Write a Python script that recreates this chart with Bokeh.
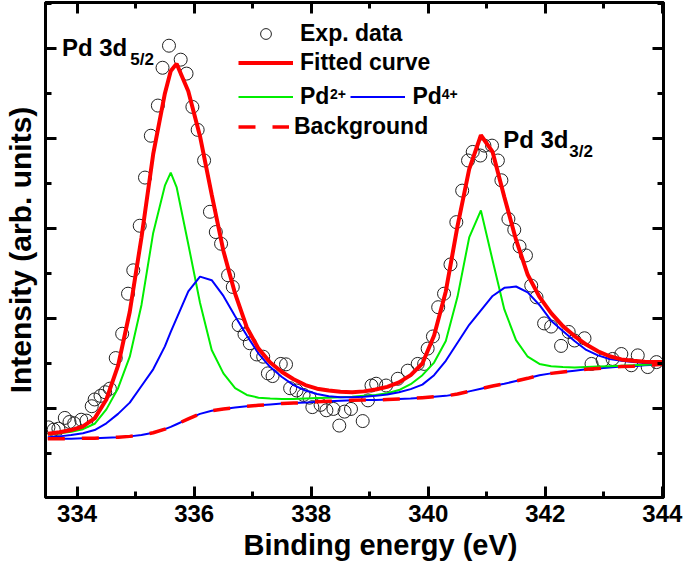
from bokeh.plotting import figure
from bokeh.models import (Range1d, LinearAxis, SingleIntervalTicker, Legend,
                          LegendItem, Label, Title, ColumnDataSource)
from bokeh.embed import file_html
from bokeh.resources import INLINE

# ---------------- data ----------------
energy = [333.5, 333.7, 333.9, 334.1, 334.3, 334.5, 334.7, 334.9, 335.1, 335.3,
          335.5, 335.6, 335.7, 335.9, 336.1, 336.3, 336.5, 336.7, 336.9, 337.1,
          337.3, 337.5, 337.7, 337.9, 338.1, 338.3, 338.5, 338.7, 338.9, 339.1,
          339.3, 339.5, 339.7, 339.9, 340.1, 340.3, 340.5, 340.7, 340.9, 341.1,
          341.3, 341.5, 341.7, 341.9, 342.1, 342.3, 342.5, 342.7, 342.9, 343.1,
          343.3, 343.5, 343.7, 343.9, 344.0]

background = [1.33, 1.33, 1.33, 1.34, 1.34, 1.35, 1.36, 1.38, 1.41, 1.46,
              1.54, 1.59, 1.65, 1.77, 1.88, 1.95, 1.99, 2.02, 2.05, 2.07,
              2.09, 2.11, 2.12, 2.13, 2.15, 2.16, 2.17, 2.18, 2.19, 2.19,
              2.20, 2.21, 2.22, 2.24, 2.26, 2.28, 2.32, 2.38, 2.44, 2.50,
              2.55, 2.61, 2.67, 2.74, 2.78, 2.81, 2.84, 2.87, 2.89, 2.91,
              2.93, 2.94, 2.96, 2.97, 2.98]

pd2 = [1.42, 1.45, 1.48, 1.54, 1.66, 1.98, 2.45, 3.15, 4.30, 5.90,
       6.95, 7.24, 6.92, 5.65, 4.35, 3.30, 2.78, 2.45, 2.30, 2.24,
       2.22, 2.21, 2.21, 2.22, 2.23, 2.24, 2.25, 2.26, 2.28, 2.30,
       2.34, 2.41, 2.54, 2.74, 3.02, 3.50, 4.48, 5.80, 6.40, 5.29,
       4.20, 3.52, 3.15, 2.99, 2.94, 2.92, 2.91, 2.92, 2.93, 2.94,
       2.95, 2.96, 2.97, 2.98, 2.98]

pd4 = [1.36, 1.38, 1.41, 1.45, 1.52, 1.67, 1.88, 2.13, 2.50, 2.87,
       3.38, 3.70, 4.00, 4.60, 4.93, 4.85, 4.50, 4.05, 3.62, 3.22,
       2.92, 2.70, 2.52, 2.40, 2.32, 2.27, 2.25, 2.25, 2.26, 2.28,
       2.31, 2.36, 2.43, 2.53, 2.74, 3.06, 3.46, 3.86, 4.18, 4.50,
       4.68, 4.71, 4.58, 4.30, 3.95, 3.72, 3.50, 3.30, 3.18, 3.10,
       3.06, 3.03, 3.01, 3.00, 3.00]

fitted = [1.44, 1.47, 1.52, 1.60, 1.78, 2.20, 2.95, 4.15, 5.80, 7.65,
          9.00, 9.50, 9.66, 9.05, 8.05, 6.75, 5.50, 4.55, 3.80, 3.33,
          3.02, 2.81, 2.65, 2.52, 2.44, 2.40, 2.37, 2.36, 2.38, 2.42,
          2.48, 2.58, 2.74, 3.00, 3.62, 4.60, 6.05, 7.32, 8.07, 7.70,
          6.70, 5.75, 4.97, 4.48, 4.12, 3.83, 3.61, 3.42, 3.27, 3.16,
          3.09, 3.06, 3.04, 3.03, 3.03]

exp_energy = [333.51, 333.60, 333.68, 333.79, 333.87, 333.95, 334.07, 334.16, 334.25, 334.30,
              334.40, 334.48, 334.56, 334.66, 334.77, 334.87, 334.96, 335.07, 335.16, 335.26,
              335.38, 335.46, 335.57, 335.77, 335.87, 335.97, 336.06, 336.17, 336.27, 336.37,
              336.46, 336.58, 336.66, 336.76, 336.86, 336.95, 337.07, 337.18, 337.26, 337.34,
              337.48, 337.57, 337.64, 337.75, 337.87, 337.97, 338.02, 338.16, 338.26, 338.38,
              338.48, 338.57, 338.68, 338.88, 338.97, 339.03, 339.11, 339.28, 339.48, 339.65,
              339.82, 339.93, 339.99, 340.08, 340.17, 340.27, 340.38, 340.48, 340.58, 340.68,
              340.76, 340.89, 340.96, 341.09, 341.19, 341.25, 341.37, 341.47, 341.56, 341.67,
              341.76, 341.85, 341.98, 342.10, 342.27, 342.40, 342.50, 342.67, 342.79, 342.98,
              343.15, 343.30, 343.47, 343.58, 343.75, 343.90]

exp_intensity = [1.58, 1.53, 1.55, 1.79, 1.70, 1.67, 1.75, 1.73, 2.05, 2.20,
                 2.28, 2.36, 2.44, 3.12, 3.66, 4.55, 5.07, 6.06, 7.13, 8.06,
                 8.73, 9.57, 10.06, 9.75, 9.44, 8.70, 8.19, 7.51, 6.37, 5.92,
                 5.66, 4.96, 4.70, 3.85, 3.65, 3.45, 3.20, 3.15, 2.78, 2.72,
                 2.99, 2.98, 2.45, 2.40, 2.30, 2.24, 2.03, 2.08, 1.96, 1.99,
                 1.62, 1.93, 1.99, 1.72, 2.18, 2.51, 2.55, 2.51, 2.66, 2.84,
                 2.99, 2.99, 3.33, 3.60, 4.25, 4.55, 5.20, 6.14, 6.84, 7.51,
                 7.70, 7.62, 7.84, 7.84, 7.51, 7.07, 6.21, 5.97, 5.60, 5.40,
                 4.73, 4.47, 3.89, 3.82, 3.39, 3.70, 3.51, 3.56, 2.99, 3.07,
                 3.10, 3.21, 2.96, 3.18, 2.92, 3.03]

x_ticks_interval = 2
y_ticks_interval = 2

# ---------------- figure ----------------
FONT = "Liberation Sans"

p = figure(width=684, height=569, output_backend="svg", toolbar_location=None,
           x_range=Range1d(333.46, 344.02), y_range=Range1d(0.022, 11.02),
           min_border_left=44, min_border_right=21, min_border_top=2,
           min_border_bottom=72)
p.grid.visible = False
p.outline_line_color = "black"
p.outline_line_width = 3
p.background_fill_color = "white"
p.border_fill_color = "white"

xt = SingleIntervalTicker(interval=x_ticks_interval, num_minor_ticks=2)
yt = SingleIntervalTicker(interval=y_ticks_interval, num_minor_ticks=2)
p.xaxis.ticker = xt
p.yaxis.ticker = yt
p.add_layout(LinearAxis(ticker=xt), "above")
p.add_layout(LinearAxis(ticker=yt), "right")

for ax in p.axis:
    ax.major_tick_in = 11
    ax.major_tick_out = 0
    ax.minor_tick_in = 6
    ax.minor_tick_out = 0
    ax.major_tick_line_width = 3
    ax.minor_tick_line_width = 3
    ax.major_tick_line_color = "black"
    ax.minor_tick_line_color = "black"
    ax.axis_line_width = 3
    ax.axis_line_color = "black"
    ax.major_label_text_font = FONT
    ax.major_label_text_font_style = "bold"
    ax.axis_label_text_font = FONT
    ax.axis_label_text_font_style = "bold"
    ax.axis_label_text_color = "black"
    ax.major_label_text_color = "black"

# bottom axis: tick labels only (title added below as a panel title)
bx = p.below[0]
bx.major_label_text_font_size = "24px"
bx.major_label_standoff = 7

# left axis: title, no tick labels (not drawn)
ly = p.left[0]
ly.axis_label = "Intensity (arb. units)"
ly.axis_label_text_font_size = "30px"
ly.axis_label_standoff = 9

for ax in (ly, p.above[0], p.right[0]):
    ax.major_label_text_font_size = "1px"
    ax.major_label_text_color = None
    ax.major_label_standoff = 0

# x-axis title, off-centre to the right as in the original
xtitle = Title(text="Binding energy (eV)", align="left", offset=198,
               standoff=4, text_font=FONT, text_font_style="bold",
               text_font_size="29px", text_color="black")
p.add_layout(xtitle, "below")

src = ColumnDataSource(dict(energy=energy, background=background, pd2=pd2,
                            pd4=pd4, fitted=fitted))
exp_src = ColumnDataSource(dict(e=exp_energy, i=exp_intensity))

r_exp = p.scatter(x="e", y="i", source=exp_src, marker="circle", size=13,
                  fill_color=None, line_color="#222222", line_width=1)
p.line(x="energy", y="background", source=src, line_color="#0000FF", line_width=2)
r_pd2 = p.line(x="energy", y="pd2", source=src, line_color="#00EE00", line_width=2)
r_pd4 = p.line(x="energy", y="pd4", source=src, line_color="#0000FF", line_width=2)
r_fit = p.line(x="energy", y="fitted", source=src, line_color="#FF0000", line_width=4)
r_bg = p.line(x="energy", y="background", source=src, line_color="#FF0000",
              line_width=3.5, line_dash="17 17")


def make_legend(items, loc, orientation="vertical", spacing=2, gw=55, standoff=7):
    lg = Legend(items=items, location=loc, orientation=orientation)
    lg.label_text_font = FONT
    lg.label_text_font_style = "bold"
    lg.label_text_font_size = "23px"
    lg.label_text_color = "black"
    lg.label_standoff = standoff
    lg.glyph_width = gw
    lg.glyph_height = 27
    lg.label_height = 27
    lg.spacing = spacing
    lg.padding = 0
    lg.margin = 0
    lg.border_line_color = None
    lg.background_fill_alpha = 0
    return lg


p.add_layout(make_legend([LegendItem(label="Exp. data", renderers=[r_exp]),
                          LegendItem(label="Fitted curve", renderers=[r_fit])],
                         (193, 421)))
p.add_layout(make_legend([LegendItem(label="Pd", renderers=[r_pd2]),
                          LegendItem(label="Pd", renderers=[r_pd4])],
                         (193, 387), orientation="horizontal", spacing=21))
p.add_layout(make_legend([LegendItem(label="Background", renderers=[r_bg])],
                         (193, 357), gw=51, standoff=5))


def add_text(x, y, text, size, align="left"):
    p.add_layout(Label(x=x, y=y, text=text, text_font=FONT,
                       text_font_style="bold", text_font_size=size,
                       text_color="black", text_align=align,
                       text_baseline="alphabetic"))


# superscripts of the legend labels
add_text(338.32, 8.98, "2+", "14px")
add_text(340.23, 8.98, "4+", "14px")
# peak labels
add_text(333.74, 10.02, "Pd 3d", "24px")
add_text(334.91, 9.76, "5/2", "17px")
add_text(341.28, 7.97, "Pd 3d", "24px")
add_text(342.41, 7.72, "3/2", "17px")

open("out.html", "w").write(file_html(p, INLINE))
